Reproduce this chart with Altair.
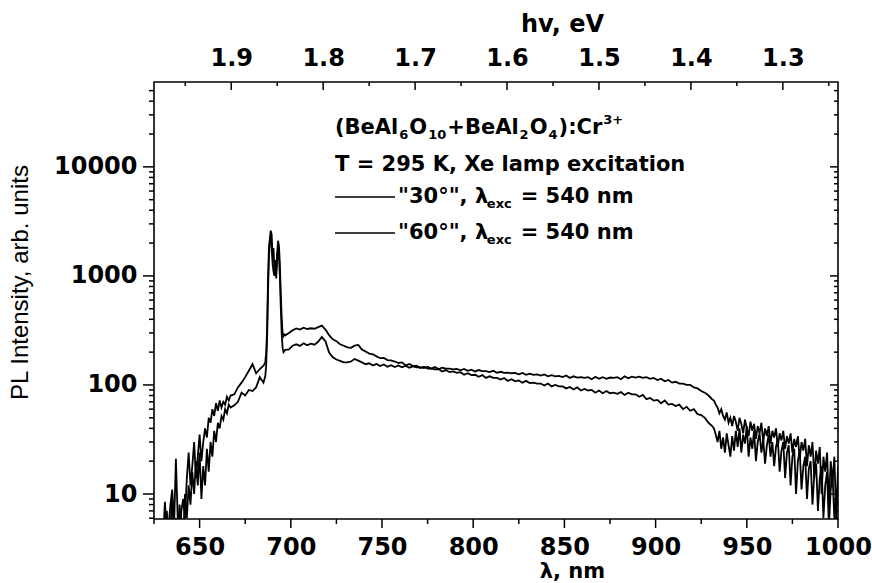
import altair as alt
import pandas as pd

# ---------------- spectra (wavelength in nm, PL intensity in arb. units) ----------------
wavelength = (list(range(630, 668))                 # 630..667, 1 nm
              + list(range(669, 686, 2))            # 669..685, 2 nm
              + [686 + 0.5 * i for i in range(23)]  # 686..697, 0.5 nm (R-line region)
              + list(range(699, 932, 2))            # 699..931, 2 nm
              + list(range(932, 1001)))             # 932..1000, 1 nm

pl_30 = (
    [4, 8.5, 4, 5, 8, 11, 5, 21, 6, 4, 7, 9, 6, 14, 24, 12, 18, 30, 14, 22,
     35, 20, 30, 40, 33, 50, 45, 60, 52, 68, 58, 72, 62, 70, 66, 78, 72, 80]
    + [82, 95, 105, 118, 135, 155, 128, 140, 150]
    + [160, 200, 320, 900, 1800, 2200, 2600, 2400, 1500, 1800, 1200, 1400,
       1100, 1600, 2100, 1900, 1300, 700, 420, 300, 280, 290, 285]
    + [300, 318, 330, 322, 335, 326, 331, 328, 339, 350,
       322, 286, 262, 252, 236, 229, 221, 219, 229, 233,
       211, 203, 194, 191, 183, 176, 177, 169, 168, 164,
       159, 161, 151, 156, 149, 150, 143, 147, 141, 142,
       139, 140, 133, 137, 131, 133, 129, 131, 124, 128,
       123, 124, 119, 123, 116, 120, 116, 116, 112, 116,
       109, 113, 108, 110, 105, 109, 104, 105, 103, 103,
       99, 103, 97, 100, 97, 97, 93, 96, 91, 95,
       89, 92, 89, 90, 85, 89, 84, 88, 84, 85,
       83, 86, 81, 85, 82, 82, 78, 81, 74, 76,
       72, 73, 68, 72, 66, 67, 64, 66, 60, 63,
       58, 60, 54, 53, 50, 45, 42]
    + [40, 35, 30, 38, 26, 33, 24, 36, 28, 22,
       34, 25, 38, 27, 40, 24, 35, 29, 42, 22,
       33, 26, 38, 20, 30, 36, 24, 32, 19, 28,
       35, 22, 30, 18, 27, 32, 16, 25, 30, 14,
       24, 28, 12, 22, 26, 10, 20, 25, 11, 18,
       22, 9, 17, 20, 8, 15, 19, 7, 14, 18,
       6, 12, 16, 5, 11, 15, 6, 10, 8]
)

pl_60 = (
    [4, 4, 7, 4, 5, 9, 4, 6, 4, 8, 5, 4, 10, 6, 12, 8, 16, 10, 20, 12,
     24, 9, 18, 12, 26, 16, 30, 22, 38, 30, 45, 40, 52, 48, 60, 55, 66, 62]
    + [65, 70, 85, 80, 90, 88, 95, 118, 105]
    + [120, 150, 260, 700, 1500, 2000, 2300, 1900, 1300, 1100, 1000, 1250,
       950, 1400, 1800, 1500, 1000, 520, 300, 220, 200, 205, 210]
    + [212, 229, 236, 228, 241, 231, 239, 234, 249, 276,
       252, 198, 179, 171, 166, 161, 161, 164, 173, 167,
       161, 155, 158, 151, 156, 149, 154, 147, 152, 146,
       151, 145, 150, 144, 148, 145, 146, 143, 147, 141,
       146, 140, 144, 141, 141, 139, 140, 136, 140, 135,
       138, 133, 137, 134, 134, 131, 135, 129, 132, 129,
       130, 128, 129, 125, 129, 124, 127, 124, 125, 122,
       125, 120, 123, 120, 121, 118, 122, 116, 120, 117,
       118, 116, 118, 113, 119, 114, 118, 114, 117, 116,
       118, 113, 120, 115, 119, 117, 119, 116, 118, 114,
       116, 111, 114, 108, 111, 105, 107, 103, 103, 100,
       100, 95, 93, 88, 85, 80, 74]
    + [72, 66, 62, 55, 60, 52, 48, 56, 45, 50,
       42, 52, 46, 38, 50, 44, 36, 48, 40, 34,
       46, 38, 44, 32, 42, 36, 45, 30, 40, 34,
       42, 29, 38, 33, 40, 27, 36, 31, 38, 26,
       34, 29, 36, 24, 32, 27, 34, 21, 30, 25,
       32, 18, 28, 22, 30, 14, 25, 19, 27, 10,
       22, 16, 24, 8, 20, 13, 22, 6, 18]
)

assert len(pl_30) == len(wavelength) == len(pl_60)

# ---------------- axis tick values ----------------
lambda_major = [650, 700, 750, 800, 850, 900, 950, 1000]
lambda_minor = [625, 675, 725, 775, 825, 875, 925, 975]
ev_major = [1.9, 1.8, 1.7, 1.6, 1.5, 1.4, 1.3]
ev_minor = [1.95, 1.85, 1.75, 1.65, 1.55, 1.45, 1.35, 1.25]
int_major = [10, 100, 1000, 10000]
int_minor = ([6, 7, 8, 9] + [20, 30, 40, 50, 60, 70, 80, 90]
             + [200, 300, 400, 500, 600, 700, 800, 900]
             + [2000, 3000, 4000, 5000, 6000, 7000, 8000, 9000]
             + [20000, 30000, 40000, 50000])

W, H = 684, 437
BOLD = "DejaVu Sans"
INK = "black"

xs = alt.Scale(domain=[625, 1000], nice=False, zero=False)
ys = alt.Scale(type="log", domain=[5.9, 60000], nice=False)
es = alt.Scale(domain=[1.984, 1.24], nice=False, zero=False)

n = len(wavelength)
spectra = pd.DataFrame({
    "wl": wavelength * 2,
    "pl": pl_30 + pl_60,
    "sample": ["30°"] * n + ["60°"] * n,
})

lines = alt.Chart(spectra).mark_line(color=INK, strokeWidth=1.8, clip=True).encode(
    x=alt.X("wl:Q", scale=xs, axis=alt.Axis(
        values=lambda_major, format="d", ticks=False, domain=False, grid=False,
        labelFont=BOLD, labelFontWeight="bold", labelFontSize=24, labelPadding=16,
        labelFlush=False, labelOverlap=False,
        title="λ, nm", titleFont=BOLD, titleFontWeight="bold", titleFontSize=21,
        titleX=418, titleY=52, titleAlign="center", titleBaseline="middle")),
    y=alt.Y("pl:Q", scale=ys, axis=alt.Axis(
        orient="left", values=int_major, format="d", ticks=False, domain=False, grid=False,
        labelFont=BOLD, labelFontWeight="bold", labelFontSize=24, labelPadding=17,
        labelOverlap=False, labelFlush=False,
        title="PL Intensity, arb. units", titleFont="Liberation Sans",
        titleFontWeight="normal", titleFontSize=24, titleAngle=270,
        titleX=-134, titleY=200, titleAlign="center", titleBaseline="middle")),
    detail="sample:N",
)


def x_ticks(values, y0, y1):
    return alt.Chart(pd.DataFrame({"v": values})).mark_rule(color=INK, strokeWidth=1.5).encode(
        x=alt.X("v:Q", scale=xs, axis=None), y=alt.value(y0), y2=alt.value(y1))


def y_ticks(values, x0, x1):
    return alt.Chart(pd.DataFrame({"v": values})).mark_rule(color=INK, strokeWidth=1.5).encode(
        y=alt.Y("v:Q", scale=ys, axis=None), x=alt.value(x0), x2=alt.value(x1))


# top photon-energy axis: labels and title, ticks pointing inward
top_major = alt.Chart(pd.DataFrame({"e": ev_major})).mark_rule(color=INK, strokeWidth=1.5).encode(
    x=alt.X("e:Q", scale=es, axis=alt.Axis(
        orient="top", values=ev_major, format=".1f", ticks=False, domain=False, grid=False,
        labelFont=BOLD, labelFontWeight="bold", labelFontSize=24, labelPadding=12,
        labelFlush=False, labelOverlap=False,
        title="hv, eV", titleFont=BOLD, titleFontWeight="bold", titleFontSize=24,
        titleX=408, titleY=-58, titleAlign="center", titleBaseline="middle")),
    y=alt.value(0), y2=alt.value(8))

top_minor = alt.Chart(pd.DataFrame({"e": ev_minor})).mark_rule(color=INK, strokeWidth=1.5).encode(
    x=alt.X("e:Q", scale=es, axis=None), y=alt.value(0), y2=alt.value(4))

tick_layers = [
    x_ticks(lambda_major, H, H + 9), x_ticks(lambda_minor, H, H + 5),
    y_ticks(int_major, -11, 0), y_ticks(int_minor, -5, 0),
    y_ticks(int_major, W - 8, W), y_ticks(int_minor, W - 4, W),
    top_major, top_minor,
]

# ---------------- annotation block ----------------
ADV = {"(": .457, ")": .457, "B": .762, "e": .678, "A": .774, "l": .343, "O": .850,
       "+": .838, ":": .400, "C": .734, "r": .493, "T": .682, " ": .348,
       "=": .838, "K": .775, ",": .380, "X": .774, "a": .675, "m": 1.042, "p": .716,
       "x": .712, "c": .593, "i": .343, "t": .478, "o": .687, "n": .712, '"': .401,
       "°": .500, "λ": .667}
MAIN, SMALL = 21, 13


def advance(s, size):
    return sum(ADV.get(ch, .696) for ch in s) * size


def rich_text(parts, x0, y0):
    """Pieces are (text, role, gap_before): role n = normal, b = subscript, p = superscript."""
    layers, x = [], x0
    for s, role, gap in parts:
        size = MAIN if role == "n" else SMALL
        dy = {"n": 0, "b": 7, "p": -8}[role]
        x += gap
        layers.append(
            alt.Chart(pd.DataFrame({"k": [0]})).mark_text(
                font=BOLD, fontWeight="bold", fontSize=size, align="left",
                baseline="middle", color=INK,
            ).encode(x=alt.value(x), y=alt.value(y0 + dy), text=alt.value(s)))
        x += advance(s, size)
    return layers


formula = [("(BeAl", "n", 0), ("6", "b", 1), ("O", "n", 1), ("10", "b", 1), ("+BeAl", "n", 1),
           ("2", "b", 1), ("O", "n", 1), ("4", "b", 1), ("):Cr", "n", 1), ("3+", "p", 1)]
conditions = [("T = 295 K, Xe lamp excitation", "n", 0)]
entry_30 = [('"30°", λ', "n", 0), ("exc", "b", 3), ("= 540 nm", "n", 8)]
entry_60 = [('"60°", λ', "n", 0), ("exc", "b", 3), ("= 540 nm", "n", 8)]


def legend_line(y):
    return alt.Chart(pd.DataFrame({"k": [0]})).mark_rule(color=INK, strokeWidth=1.3).encode(
        x=alt.value(181), x2=alt.value(241), y=alt.value(y))


text_layers = (rich_text(formula, 181, 46) + rich_text(conditions, 181, 83)
               + [legend_line(115)] + rich_text(entry_30, 244, 115)
               + [legend_line(151)] + rich_text(entry_60, 244, 151))

chart = alt.layer(lines, *tick_layers, *text_layers).resolve_scale(
    x="independent"
).resolve_axis(
    y="independent"
).properties(
    width=W, height=H,
    padding={"left": 154, "top": 82, "right": 34, "bottom": 64},
    autosize=alt.AutoSizeParams(type="none"),
    background="white",
).configure_view(stroke=INK, strokeWidth=1.6).configure_axis(
    labelColor=INK, titleColor=INK)

chart.save("out.html", embed_options={"renderer": "svg", "actions": False})
